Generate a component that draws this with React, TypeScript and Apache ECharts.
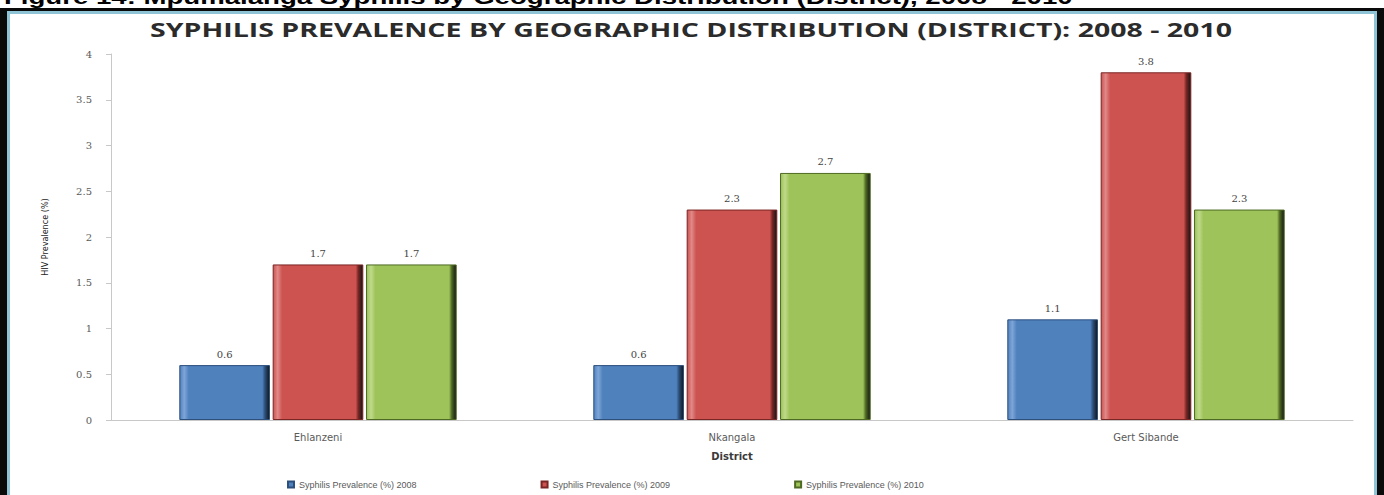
import React, { useEffect, useRef } from "react";
import * as echarts from "echarts";

// Districts along the category axis
const districts = ["Ehlanzeni", "Nkangala", "Gert Sibande"];

// Syphilis prevalence (%) per district and year
const prev2008 = [0.6, 0.6, 1.1];
const prev2009 = [1.7, 2.3, 3.8];
const prev2010 = [1.7, 2.7, 2.3];

const seriesNames = [
  "Syphilis Prevalence (%) 2008",
  "Syphilis Prevalence (%) 2009",
  "Syphilis Prevalence (%) 2010",
];

const yTicks = { min: 0, max: 4, interval: 0.5 };

const caption =
  "Figure 14: Mpumalanga Syphilis by Geographic Distribution (District), 2008 - 2010";
const chartTitle =
  "SYPHILIS PREVALENCE BY GEOGRAPHIC DISTRIBUTION (DISTRICT): 2008 - 2010";

// Bevelled bar fill: base colour with a dark edge on the right side
function bevel(light: string, base: string, dark: string) {
  return new echarts.graphic.LinearGradient(1, 0, 0, 0, [
    { offset: 0, color: "#151515" },
    { offset: 0.05, color: dark },
    { offset: 0.08, color: base },
    { offset: 0.9, color: base },
    { offset: 0.95, color: light },
    { offset: 1, color: base },
  ]);
}

export default function App() {
  const ref = useRef<HTMLDivElement>(null);

  useEffect(() => {
    if (!ref.current) return;
    const chart = echarts.init(ref.current, undefined, { renderer: "svg" });

    const mkSeries = (
      name: string,
      data: number[],
      light: string,
      base: string,
      dark: string
    ) => ({
      name,
      type: "bar",
      data,
      barGap: "3%",
      barCategoryGap: "33%",
      itemStyle: {
        color: bevel(light, base, dark),
        borderColor: dark,
        borderWidth: 1,
      },
      label: {
        show: true,
        position: "top",
        distance: 6,
        fontSize: 10,
        color: "#444444",
        fontFamily: "DejaVu Serif",
      },
    });

    chart.setOption({
      animation: false,
      backgroundColor: "#ffffff",
      color: ["#4f81bd", "#cd5350", "#9bbb59"],
      graphic: [
        {
          type: "rect",
          z: -20,
          silent: true,
          shape: { x: 0, y: 8, width: 1384, height: 500 },
          style: { fill: "#0a0a0a" },
        },
        {
          type: "rect",
          z: -19,
          silent: true,
          shape: { x: 8.5, y: 12.5, width: 1367, height: 490 },
          style: { fill: "#ffffff", stroke: "#8fc3d6", lineWidth: 3 },
        },
        {
          type: "text",
          z: 10,
          x: 4,
          y: 7,
          scaleX: 1.38,
          style: {
            text: caption,
            fontFamily: "Liberation Sans",
            fontWeight: "bold",
            fontSize: 20,
            fill: "#000000",
            textAlign: "left",
            textVerticalAlign: "bottom",
          },
        },
        {
          type: "text",
          z: 10,
          x: 691,
          y: 30,
          scaleX: 1.5,
          style: {
            text: chartTitle,
            fontFamily: "Open Sans",
            fontWeight: "bold",
            fontSize: 19,
            fill: "#2b2b2b",
            textAlign: "center",
            textVerticalAlign: "middle",
          },
        },
      ],
      legend: {
        left: 282,
        top: 475,
        icon: "rect",
        itemWidth: 6,
        itemHeight: 6,
        itemGap: 124,
        textStyle: {
          fontSize: 9,
          color: "#5a5a5a",
          fontFamily: "Liberation Sans",
        },
        data: seriesNames,
      },
      grid: { left: 111, right: 31, top: 54, bottom: 75 },
      xAxis: {
        type: "category",
        data: districts,
        name: "District",
        nameLocation: "middle",
        nameGap: 31,
        nameTextStyle: {
          fontSize: 10,
          fontWeight: "bold",
          color: "#3a3a3a",
          fontFamily: "DejaVu Sans",
        },
        axisLine: { lineStyle: { color: "#c8c8c8" } },
        axisTick: { show: false },
        axisLabel: {
          fontSize: 10,
          color: "#5a5a5a",
          margin: 12,
          fontFamily: "DejaVu Sans",
        },
      },
      yAxis: {
        type: "value",
        min: yTicks.min,
        max: yTicks.max,
        interval: yTicks.interval,
        name: "HIV Prevalence (%)",
        nameLocation: "middle",
        nameGap: 62,
        nameTextStyle: {
          fontSize: 9,
          color: "#1a1a1a",
          fontFamily: "DejaVu Sans Condensed",
        },
        axisLine: { show: true, lineStyle: { color: "#c8c8c8" } },
        axisTick: { show: true, length: 5, lineStyle: { color: "#c8c8c8" } },
        splitLine: { show: false },
        axisLabel: {
          fontSize: 10,
          color: "#5a5a5a",
          margin: 19,
          fontFamily: "DejaVu Serif",
        },
      },
      series: [
        mkSeries(seriesNames[0], prev2008, "#7ea6d8", "#4f81bd", "#2c4f7c"),
        mkSeries(seriesNames[1], prev2009, "#e08a88", "#cd5350", "#7a2624"),
        mkSeries(seriesNames[2], prev2010, "#c0da8a", "#9dc35a", "#4e6a22"),
      ],
    });

    return () => chart.dispose();
  }, []);

  return (
    <div
      ref={ref}
      style={{
        position: "fixed",
        left: 0,
        top: 0,
        width: 1384,
        height: 495,
      }}
    />
  );
}
